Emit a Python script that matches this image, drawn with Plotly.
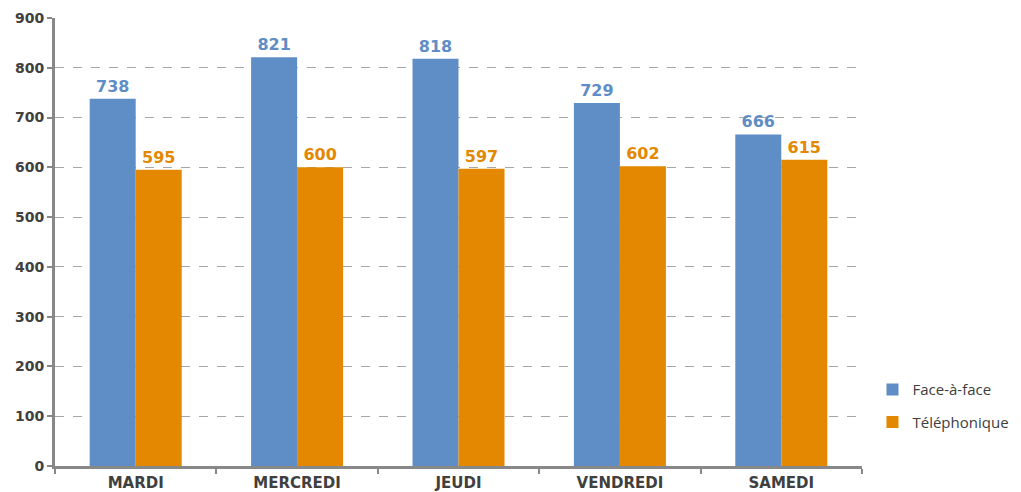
import plotly.graph_objects as go

categories = ["MARDI", "MERCREDI", "JEUDI", "VENDREDI", "SAMEDI"]
face = [738, 821, 818, 729, 666]
tel = [595, 600, 597, 602, 615]
y_ticks = [0, 100, 200, 300, 400, 500, 600, 700, 800, 900]

blue = "#5F8DC5"
orange = "#E38800"

fig = go.Figure()
fig.add_trace(go.Bar(x=categories, y=face, name="Face-à-face", marker_color=blue,
                     marker_line_width=0, legendgroup="a",
                     text=face, textposition="outside", cliponaxis=False,
                     textfont=dict(family="DejaVu Sans", size=16, color=blue, weight="bold")))
fig.add_trace(go.Bar(x=categories, y=tel, name="Téléphonique", marker_color=orange,
                     marker_line_width=0, legendgroup="b",
                     text=tel, textposition="outside", cliponaxis=False,
                     textfont=dict(family="DejaVu Sans", size=16, color=orange, weight="bold")))

fig.update_layout(
    width=1021, height=492,
    margin=dict(l=47, r=167, t=10, b=34, autoexpand=False),
    plot_bgcolor="white", paper_bgcolor="white",
    barmode="group", bargap=0.43, bargroupgap=0,
    font=dict(family="DejaVu Sans", color="#404040"),
    legend=dict(xref="container", x=0.8467, y=0.207, xanchor="left", yanchor="top",
                font=dict(family="Open Sans", size=15, color="#404040"),
                tracegroupgap=10),
    xaxis=dict(type="category", showline=True, linecolor="#888888", linewidth=3,
               ticks="outside", tickson="boundaries", ticklen=5, tickcolor="#888888",
               tickwidth=2, automargin=False, ticklabelstandoff=1,
               tickfont=dict(family="DejaVu Sans", size=15, color="#404040", weight="bold")),
    yaxis=dict(range=[0, 900], tickvals=y_ticks, showline=True, linecolor="#888888",
               linewidth=3, ticks="outside", ticklen=5, tickcolor="#888888", tickwidth=2,
               showgrid=True, gridcolor="#A6A6A6", griddash="dash", gridwidth=1,
               zeroline=False, automargin=False,
               tickfont=dict(family="DejaVu Sans", size=14, color="#404040", weight="bold")),
)

fig.write_html("out.html")
